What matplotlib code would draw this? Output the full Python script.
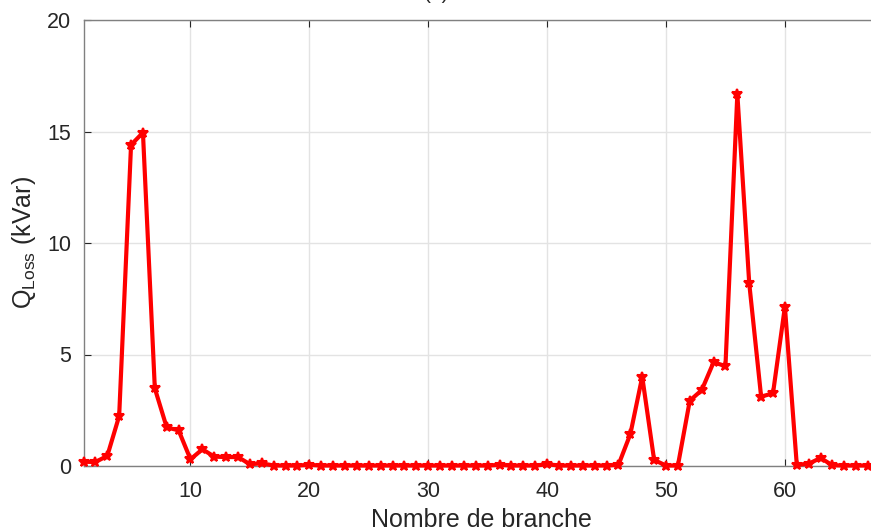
import matplotlib
matplotlib.use("Agg")
import matplotlib.pyplot as plt
import numpy as np

plt.rcParams['font.family'] = ['Liberation Sans', 'DejaVu Sans']
plt.rcParams['mathtext.fontset'] = 'custom'
plt.rcParams['mathtext.rm'] = 'Liberation Sans'
plt.rcParams['mathtext.it'] = 'Liberation Sans:italic'

branches = list(range(1, 69))
q_loss = [0.19, 0.18, 0.45, 2.24, 14.4, 14.95, 3.48, 1.73, 1.6, 0.3,
          0.75, 0.42, 0.4, 0.4, 0.08, 0.12, 0.02, 0.02, 0.02, 0.05,
          0.02, 0.02, 0.02, 0.02, 0.02, 0.02, 0.02, 0.02, 0.02, 0.02,
          0.02, 0.02, 0.02, 0.02, 0.02, 0.05, 0.02, 0.02, 0.02, 0.08,
          0.02, 0.02, 0.02, 0.02, 0.02, 0.05, 1.43, 4.0, 0.27, 0.02,
          0.02, 2.93, 3.4, 4.65, 4.48, 16.68, 8.19, 3.11, 3.26, 7.14,
          0.05, 0.1, 0.36, 0.03, 0.02, 0.02, 0.02, 0.02]
x_ticks = [10, 20, 30, 40, 50, 60]
y_ticks = [0, 5, 10, 15, 20]

fig = plt.figure(figsize=(8.71, 5.31), dpi=100)
ax = fig.add_axes([83.5/871, 65/531, (880-83.5)/871, 446/531])

ax.plot(branches, q_loss, color='#ff0000', linewidth=3, marker='*',
        markersize=7, markeredgewidth=1.5, zorder=3, clip_on=False)

ax.set_xlim(1, 68)
ax.set_ylim(0, 20)
ax.set_xticks(x_ticks)
ax.set_yticks(y_ticks)
ax.grid(True, color='#e3e3e3', linewidth=1)
ax.set_axisbelow(True)
ax.tick_params(direction='in', top=True, right=True, labelsize=15.5,
               colors='#262626', length=5, width=0.8)
ax.tick_params(axis='x', pad=11)
ax.tick_params(axis='y', pad=9)
for s in ax.spines.values():
    s.set_color('#808080')
    s.set_linewidth(1.0)

ax.set_xlabel('Nombre de branche', fontsize=18, color='#262626')
ax.set_ylabel(r'Q$_{\mathrm{Loss}}$ (kVar)', fontsize=18, color='#262626')
ax.yaxis.set_label_coords(-45/796.5, 0.5)
ax.xaxis.set_label_coords(0.5, -42/446)

fig.text(436/871, 1.0 - 3/531, '(a)', ha='center', va='bottom', fontsize=15, color='#262626')

fig.savefig('out.png', dpi=100)
